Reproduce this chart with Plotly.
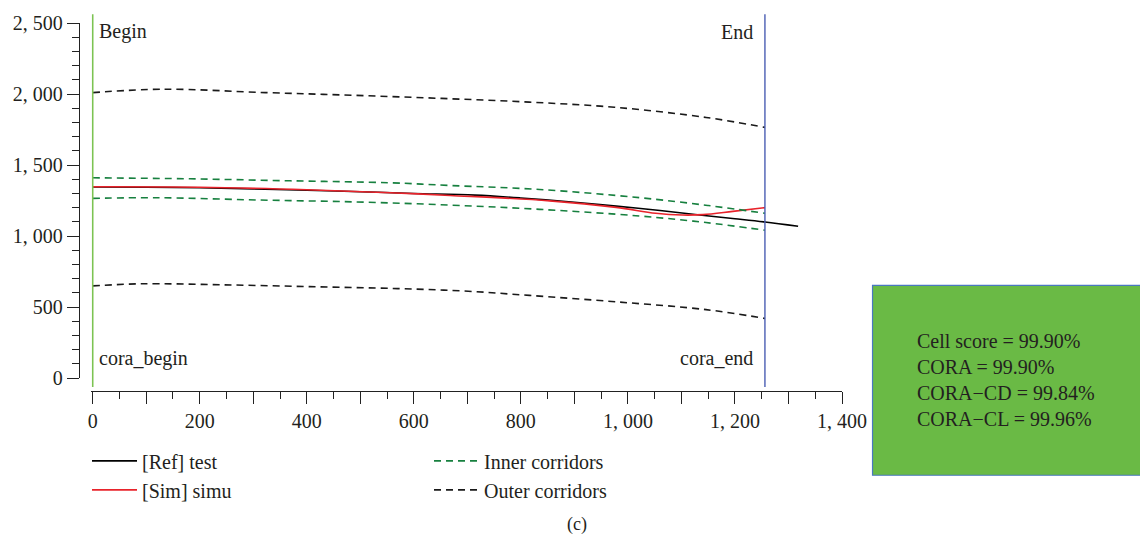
import plotly.graph_objects as go

# ---------------- data ----------------
ref_x = [0, 100, 200, 300, 400, 500, 600, 714, 800, 900, 978, 1060, 1134, 1200, 1256, 1318]
ref_y = [1345, 1344, 1340, 1332, 1322, 1312, 1300, 1288, 1268, 1238, 1211, 1180, 1148, 1122, 1099, 1069]

sim_x = [0, 200, 400, 556, 668, 854, 978, 1052, 1102, 1140, 1196, 1256]
sim_y = [1347, 1344, 1326, 1305, 1286, 1248, 1202, 1160, 1148, 1151, 1174, 1200]

inner_up_x = [0, 182, 369, 556, 668, 835, 1022, 1150, 1256]
inner_up_y = [1410, 1403, 1389, 1375, 1356, 1328, 1270, 1215, 1160]
inner_lo_x = [0, 119, 306, 493, 668, 835, 1022, 1146, 1256]
inner_lo_y = [1265, 1270, 1254, 1240, 1218, 1188, 1141, 1095, 1041]

outer_up_x = [0, 133, 323, 487, 652, 816, 981, 1146, 1256]
outer_up_y = [2010, 2034, 2010, 1991, 1969, 1943, 1905, 1835, 1765]
outer_lo_x = [0, 92, 240, 405, 570, 694, 816, 981, 1146, 1256]
outer_lo_y = [649, 664, 657, 644, 630, 613, 582, 536, 482, 420]

cora_begin = 0
cora_end = 1256

x_tickvals = [0, 100, 200, 300, 400, 500, 600, 700, 800, 900, 1000, 1100, 1200, 1300, 1400]
x_ticktext = ["0", "", "200", "", "400", "", "600", "", "800", "", "1, 000", "", "1, 200", "", "1, 400"]
y_tickvals = [0, 500, 1000, 1500, 2000, 2500]
y_ticktext = ["0", "500", "1, 000", "1, 500", "2, 000", "2, 500"]

score_lines = ["Cell score = 99.90%", "CORA = 99.90%", "CORA\u2212CD = 99.84%", "CORA\u2212CL = 99.96%"]

# ---------------- styles ----------------
FONT = "Liberation Serif"
TXT = "#231f20"
RED = "#e8232b"
GREEN_D = "#17803f"
OUTER_C = "#1a1a1a"
BEGIN_C = "#7cc352"
END_C = "#4a5db3"
BOX_FILL = "#6aba45"
BOX_LINE = "#4a78c0"

fig = go.Figure()

fig.add_trace(go.Scatter(x=ref_x, y=ref_y, mode="lines", name="[Ref] test",
                         line=dict(color="#000000", width=1.6, shape="spline"), legendrank=1))
fig.add_trace(go.Scatter(x=sim_x, y=sim_y, mode="lines", name="[Sim] simu",
                         line=dict(color=RED, width=1.6, shape="spline"), legendrank=3))
fig.add_trace(go.Scatter(x=inner_up_x, y=inner_up_y, mode="lines", name="Inner corridors",
                         legendgroup="inner",
                         line=dict(color=GREEN_D, width=1.6, dash="7px,5px", shape="spline"), legendrank=2))
fig.add_trace(go.Scatter(x=inner_lo_x, y=inner_lo_y, mode="lines", name="Inner corridors",
                         legendgroup="inner", showlegend=False,
                         line=dict(color=GREEN_D, width=1.6, dash="7px,5px", shape="spline")))
fig.add_trace(go.Scatter(x=outer_up_x, y=outer_up_y, mode="lines", name="Outer corridors",
                         legendgroup="outer",
                         line=dict(color=OUTER_C, width=1.6, dash="7px,5px", shape="spline"), legendrank=4))
fig.add_trace(go.Scatter(x=outer_lo_x, y=outer_lo_y, mode="lines", name="Outer corridors",
                         legendgroup="outer", showlegend=False,
                         line=dict(color=OUTER_C, width=1.6, dash="7px,5px", shape="spline")))

# begin / end vertical lines
fig.add_shape(type="line", xref="x", yref="paper", x0=cora_begin, x1=cora_begin, y0=0.011, y1=1.024,
              line=dict(color=BEGIN_C, width=1.6), layer="above")
fig.add_shape(type="line", xref="x", yref="paper", x0=cora_end, x1=cora_end, y0=0.011, y1=1.024,
              line=dict(color=END_C, width=1.4), layer="above")

# green score box
fig.add_shape(type="rect", xref="paper", yref="paper", x0=1.040, x1=1.395, y0=-0.229, y1=0.287,
              fillcolor=BOX_FILL, line=dict(color=BOX_LINE, width=1.2), layer="above")

ann_font = dict(family=FONT, size=20, color=TXT)
fig.add_annotation(x=cora_begin, xref="x", y=0.9757, yref="paper", text="Begin", showarrow=False,
                   xanchor="left", yanchor="middle", xshift=4, font=ann_font)
fig.add_annotation(x=cora_begin, xref="x", y=0.089, yref="paper", text="cora_begin", showarrow=False,
                   xanchor="left", yanchor="middle", xshift=4, font=ann_font)
fig.add_annotation(x=cora_end, xref="x", y=0.9757, yref="paper", text="End", showarrow=False,
                   xanchor="right", yanchor="middle", xshift=-10, font=ann_font)
fig.add_annotation(x=cora_end, xref="x", y=0.089, yref="paper", text="cora_end", showarrow=False,
                   xanchor="right", yanchor="middle", xshift=-10, font=ann_font)
fig.add_annotation(x=1.0957, xref="paper", y=0.0305, yref="paper", text="<br>".join(score_lines),
                   showarrow=False, xanchor="left", yanchor="middle", align="left",
                   font=dict(family=FONT, size=20, color=TXT))
fig.add_annotation(x=0.6527, xref="paper", y=-0.362, yref="paper", text="(c)", showarrow=False,
                   xanchor="center", yanchor="middle", font=dict(family=FONT, size=18, color=TXT))

fig.update_layout(
    width=1140, height=542,
    margin=dict(l=79, r=298, t=21, b=151, pad=0),
    paper_bgcolor="white", plot_bgcolor="white",
    font=dict(family=FONT, size=20, color=TXT),
    showlegend=True,
    legend=dict(orientation="h", x=0.0105, xanchor="left", y=-0.137, yanchor="top",
                itemwidth=45, entrywidth=282, entrywidthmode="pixels", bgcolor="rgba(0,0,0,0)",
                font=dict(family=FONT, size=20, color=TXT), traceorder="normal"),
    xaxis=dict(domain=[0.0162, 1], range=[-2.5, 1400], anchor="free", position=0,
               showgrid=False, zeroline=False, showline=True, linecolor="#222", linewidth=1.4,
               ticks="outside", ticklen=12, tickwidth=1.4, tickcolor="#222",
               tickvals=x_tickvals, ticktext=x_ticktext,
               minor=dict(dtick=50, tick0=0, ticks="outside", ticklen=7, tickwidth=1.4, tickcolor="#222"),
               tickfont=dict(family=FONT, size=20, color=TXT)),
    yaxis=dict(domain=[0.0351, 1], range=[0, 2500], anchor="free", position=0,
               showgrid=False, zeroline=False, showline=True, linecolor="#222", linewidth=1.4,
               ticks="outside", ticklen=12, tickwidth=1.4, tickcolor="#222",
               tickvals=y_tickvals, ticktext=y_ticktext,
               minor=dict(dtick=100, tick0=0, ticks="outside", ticklen=7, tickwidth=1.4, tickcolor="#222"),
               tickfont=dict(family=FONT, size=20, color=TXT)),
)

fig.write_html("out.html")
